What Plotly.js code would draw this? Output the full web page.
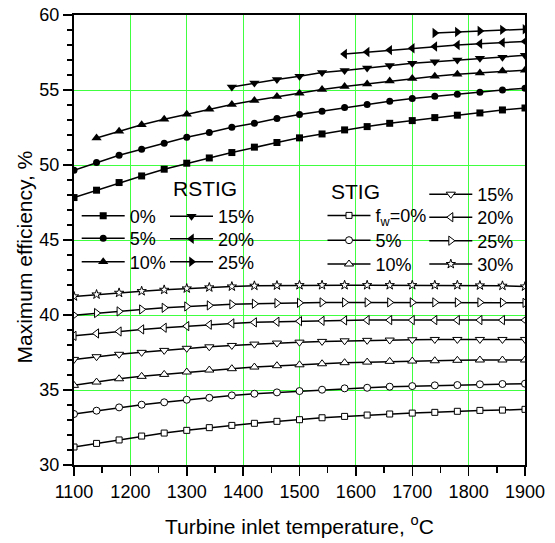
<!DOCTYPE html>
<html><head><meta charset="utf-8">
<script src="https://cdn.plot.ly/plotly-3.0.1.min.js"></script>
<style>html,body{margin:0;padding:0;background:#fff}#chart{width:555px;height:543px}</style>
</head><body><div id="chart"></div>
<script>
// ---- data ----
const temps = [1100,1140,1180,1220,1260,1300,1340,1380,1420,1460,1500,1540,1580,1620,1660,1700,1740,1780,1820,1860,1900];

const rstig0  = [47.83,48.32,48.83,49.27,49.72,50.12,50.47,50.83,51.19,51.50,51.81,52.07,52.34,52.56,52.78,52.96,53.16,53.32,53.47,53.67,53.80];
const rstig5  = [49.65,50.17,50.65,51.05,51.45,51.85,52.16,52.52,52.78,53.10,53.36,53.58,53.83,54.03,54.25,54.43,54.58,54.72,54.85,55.00,55.12];
const rstig10 = [null,51.80,52.25,52.68,53.05,53.38,53.72,54.03,54.30,54.56,54.78,55.03,55.23,55.40,55.60,55.76,55.92,56.05,56.14,56.27,56.32];
const rstig15 = [null,null,null,null,null,null,null,55.20,55.47,55.70,55.92,56.16,56.30,56.47,56.63,56.78,56.89,57.00,57.12,57.18,57.31];
const rstig20 = [null,null,null,null,null,null,null,null,null,null,null,null,57.40,57.53,57.66,57.78,57.90,58.00,58.08,58.16,58.24];
const rstig25 = [null,null,null,null,null,null,null,null,null,null,null,null,null,null,null,null,58.80,58.87,58.93,59.01,59.05];

const stig0  = [31.20,31.44,31.67,31.93,32.13,32.31,32.49,32.64,32.78,32.91,33.02,33.15,33.24,33.33,33.40,33.46,33.51,33.58,33.64,33.66,33.71];
const stig5  = [33.40,33.62,33.84,34.02,34.18,34.35,34.48,34.64,34.75,34.84,34.93,35.02,35.11,35.15,35.22,35.26,35.31,35.33,35.38,35.40,35.42];
const stig10 = [35.31,35.53,35.75,35.91,36.04,36.20,36.33,36.42,36.53,36.62,36.68,36.75,36.82,36.86,36.91,36.93,36.95,36.98,37.00,37.00,37.00];
const stig15 = [37.04,37.22,37.38,37.51,37.64,37.78,37.88,37.97,38.06,38.13,38.19,38.24,38.28,38.31,38.33,38.35,38.37,38.37,38.37,38.37,38.37];
const stig20 = [38.61,38.77,38.90,39.04,39.15,39.26,39.35,39.44,39.51,39.55,39.59,39.61,39.64,39.66,39.66,39.66,39.66,39.66,39.66,39.66,39.66];
const stig25 = [39.99,40.13,40.24,40.37,40.48,40.57,40.64,40.71,40.75,40.79,40.81,40.84,40.84,40.84,40.84,40.84,40.84,40.84,40.84,40.83,40.81];
const stig30 = [41.24,41.37,41.48,41.59,41.68,41.77,41.84,41.90,41.95,41.97,41.99,41.99,41.99,41.99,41.99,41.99,41.99,41.99,41.97,41.95,41.90];

const rstigNames = ['0%','5%','10%','15%','20%','25%'];
const stigNames  = ['f<sub>w</sub>=0%','5%','10%','15%','20%','25%','30%'];
const xTickVals = [1100,1200,1300,1400,1500,1600,1700,1800,1900];
const yTickVals = [30,35,40,45,50,55,60];

// ---- styles / layout helpers ----
const rstigSeries = [rstig0,rstig5,rstig10,rstig15,rstig20,rstig25];
const stigSeries  = [stig0,stig5,stig10,stig15,stig20,stig25,stig30];
const rstigSymbols = ['square','circle','triangle-up','triangle-down','triangle-left','triangle-right'];
const rstigSizes   = [7,7,9,9,9,9];
const stigSymbols  = ['square','circle','triangle-up','triangle-down','triangle-left','triangle-right','star'];
const stigSizes    = [6,7,8,8,8,8,7];

// legend item placement in page pixels (line start x, row centre y)
const legLineStart = [81.7,81.7,81.7,170,170,170,327.5,327.5,327.5,429.3,429.3,429.3,429.3];
const legRowY      = [216,238.5,262,216.5,239,262,215.7,240.5,264.3,194.5,217.5,241,264.3];

const M = {l:74, r:30, t:15, b:78};
const W = 555, H = 543;
const PW = W - M.l - M.r, PH = H - M.t - M.b;
const px2x = p => (p - M.l) / PW;
const py2y = p => (H - M.b - p) / PH;

const FONT = 'Arial, "Liberation Sans", sans-serif';
const GREEN = '#40ff40';

const traces = [];
rstigSeries.forEach((ys,i) => traces.push({
  x: temps, y: ys, name: rstigNames[i], type:'scatter', mode:'lines+markers',
  line:{color:'#000', width:1.5},
  marker:{symbol:rstigSymbols[i], size:rstigSizes[i], color:'#000', line:{color:'#000', width:0}},
  connectgaps:false, showlegend:true
}));
stigSeries.forEach((ys,i) => traces.push({
  x: temps, y: ys, name: stigNames[i], type:'scatter', mode:'lines+markers',
  line:{color:'#000', width:1.5},
  marker:{symbol:stigSymbols[i], size:stigSizes[i], color:'#fff', line:{color:'#000', width:1}},
  showlegend:true
}));

const layout = {
  width: W, height: H, margin: M, showlegend:true,
  paper_bgcolor:'#fff', plot_bgcolor:'#fff',
  font:{family:FONT, size:18, color:'#000'},
  xaxis:{
    range:[1100,1900], tickmode:'array', tickvals:xTickVals,
    ticks:'outside', ticklen:9, tickwidth:1.5, tickcolor:'#000',
    showline:true, linewidth:2, linecolor:'#000', mirror:true,
    showgrid:true, gridcolor:GREEN, gridwidth:1, zeroline:false,
    tickfont:{size:18},
    minor:{dtick:50, tick0:1100, ticks:'outside', ticklen:6, tickwidth:1.5, tickcolor:'#000', showgrid:false},
    title:{text:'Turbine inlet temperature, <sup>o</sup>C', font:{size:21}, standoff:19}
  },
  yaxis:{
    range:[30,60], tickmode:'array', tickvals:yTickVals,
    ticks:'outside', ticklen:9, tickwidth:1.5, tickcolor:'#000',
    showline:true, linewidth:2, linecolor:'#000', mirror:true,
    showgrid:true, gridcolor:GREEN, gridwidth:1, zeroline:false,
    tickfont:{size:18},
    minor:{dtick:1, tick0:30, ticks:'outside', ticklen:5, tickwidth:1.5, tickcolor:'#000', showgrid:false}
  },
  annotations:[
    {text:'Maximum efficiency, %', textangle:-90, xref:'paper', yref:'paper',
     x:px2x(24), y:py2y(257.5), xanchor:'center', yanchor:'middle', showarrow:false, font:{size:21}},
    {text:'RSTIG', xref:'paper', yref:'paper', x:px2x(204.7), y:py2y(188.5),
     xanchor:'center', yanchor:'middle', showarrow:false, font:{size:21}},
    {text:'STIG', xref:'paper', yref:'paper', x:px2x(355.8), y:py2y(191.7),
     xanchor:'center', yanchor:'middle', showarrow:false, font:{size:21}}
  ]
};

traces.forEach((t,i) => {
  const key = i === 0 ? 'legend' : 'legend' + (i+1);
  t.legend = key;
  layout[key] = {
    visible:true,
    x: px2x(legLineStart[i] - 5), y: py2y(legRowY[i]),
    xanchor:'left', yanchor:'middle',
    bgcolor:'rgba(0,0,0,0)', borderwidth:0,
    font:{size:18, color:'#000'}, itemwidth:43,
    itemclick:false, itemdoubleclick:false
  };
});

Plotly.newPlot('chart', traces, layout, {displayModeBar:false, staticPlot:true});
</script>
</body></html>
